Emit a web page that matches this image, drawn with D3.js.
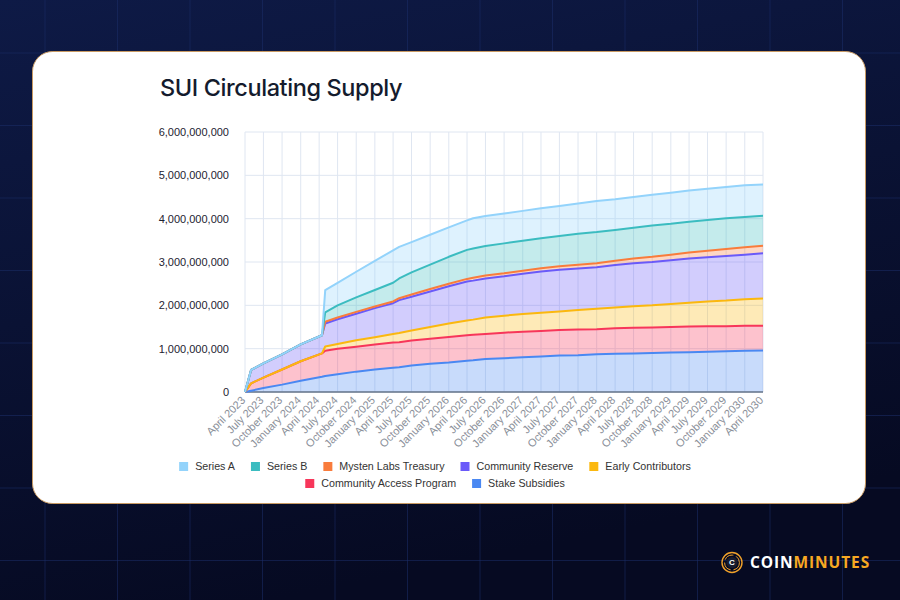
<!DOCTYPE html>
<meta charset="utf-8" />
<style>
  body { margin: 0; background: #0a1233; }
  svg { display: block; }
</style>
<body>
  <script src="https://d3js.org/d3.v7.min.js"></script>
  <script>
    // quarterly points (plus a few breakpoints), values in millions of SUI
    const dates = ["2023-04-01","2023-05-01","2023-07-01","2023-10-01","2024-01-01","2024-04-15","2024-05-01",
      "2024-07-01","2024-10-01","2025-01-01","2025-04-01","2025-05-01","2025-07-01","2025-10-01","2026-01-01",
      "2026-04-01","2026-05-01","2026-07-01","2026-10-01","2027-01-01","2027-04-01","2027-07-01","2027-10-01",
      "2028-01-01","2028-04-01","2028-07-01","2028-10-01","2029-01-01","2029-04-01","2029-07-01","2029-10-01",
      "2030-01-01","2030-04-01"];

    const stakeSubsidies    = [0,30,90,170,260,350,370,410,470,520,560,570,610,650,680,720,730,760,780,800,820,840,850,870,880,890,900,910,920,930,940,950,960];
    const communityAccess   = [0,170,240,350,450,540,580,590,575,575,580,580,580,580,590,590,590,580,590,590,590,590,590,580,590,590,590,590,590,590,580,580,570];
    const earlyContributors = [0,0,0,0,0,0,100,110,150,170,200,210,230,270,310,340,350,380,390,410,420,430,450,470,480,500,510,530,550,570,590,610,630];
    const communityReserve  = [0,310,330,350,390,420,530,570,610,670,710,760,780,820,860,900,900,900,910,930,950,960,960,960,980,990,1000,1010,1020,1020,1030,1030,1040];
    const mystenTreasury    = [0,0,0,0,0,0,40,40,45,40,40,45,50,55,60,60,65,70,70,70,75,80,85,90,100,110,120,130,140,150,160,170,175];
    const seriesB           = [0,0,0,0,0,0,220,280,335,380,430,455,510,565,620,670,675,680,690,690,695,700,715,720,710,710,720,710,710,710,710,700,695];
    const seriesA           = [0,0,0,0,0,0,510,520,590,670,750,730,700,690,680,680,700,690,690,690,690,690,700,720,710,710,710,720,720,720,720,730,720];

    // stacking order, bottom to top
    const seriesNames = ["Stake Subsidies","Community Access Program","Early Contributors","Community Reserve","Mysten Labs Treasury","Series B","Series A"];
    const seriesValues = [stakeSubsidies, communityAccess, earlyContributors, communityReserve, mystenTreasury, seriesB, seriesA];
    const seriesColors = ["#4a88f2","#f7365a","#fbb80f","#6a5af9","#f97c3c","#3bbcc0","#93d3fb"];
    const legendOrder = ["Series A","Series B","Mysten Labs Treasury","Community Reserve","Early Contributors","Community Access Program","Stake Subsidies"];

    const parseDate = d3.timeParse("%Y-%m-%d");
    const table = dates.map((d, i) => {
      const row = { date: parseDate(d) };
      seriesNames.forEach((n, j) => row[n] = seriesValues[j][i] * 1e6);
      return row;
    });

    const W = 900, H = 600;
    const svg = d3.select("body").append("svg").attr("width", W).attr("height", H);

    // background
    const defs = svg.append("defs");
    const bg = defs.append("linearGradient").attr("id", "bg").attr("x1", 0).attr("y1", 0).attr("x2", 0.3).attr("y2", 1);
    bg.append("stop").attr("offset", "0%").attr("stop-color", "#0e1a46");
    bg.append("stop").attr("offset", "100%").attr("stop-color", "#060a22");
    svg.append("rect").attr("width", W).attr("height", H).attr("fill", "url(#bg)");
    const bgGrid = svg.append("g").attr("stroke", "#1b2d68").attr("stroke-opacity", 0.55).attr("stroke-width", 1);
    d3.range(45, W, 72.5).forEach(gx => bgGrid.append("line").attr("x1", gx).attr("x2", gx).attr("y1", 0).attr("y2", H));
    d3.range(53, H, 72.5).forEach(gy => bgGrid.append("line").attr("x1", 0).attr("x2", W).attr("y1", gy).attr("y2", gy));

    // card
    svg.append("rect").attr("x", 32.5).attr("y", 51.5).attr("width", 833).attr("height", 452)
      .attr("rx", 20).attr("fill", "#fff").attr("stroke", "#c99a62").attr("stroke-width", 1);

    svg.append("text").attr("x", 160).attr("y", 96)
      .style("font-family", "Inter, 'Noto Sans', sans-serif").style("font-size", "23.5px").style("font-weight", 500)
      .attr("fill", "#141b2d").attr("letter-spacing", "-0.4").text("SUI Circulating Supply");

    const x = d3.scaleTime().domain([parseDate("2023-04-01"), parseDate("2030-04-01")]).range([245, 763]);
    const y = d3.scaleLinear().domain([0, 6e9]).range([392, 132]);

    // grid
    const grid = svg.append("g").attr("stroke", "#dfe6f1").attr("stroke-width", 1);
    const xTicks = x.ticks(d3.timeMonth.every(3));
    xTicks.forEach(t => grid.append("line").attr("x1", x(t)).attr("x2", x(t)).attr("y1", y(6e9)).attr("y2", y(0)));
    y.ticks(6).forEach(t => grid.append("line").attr("x1", 245).attr("x2", 763).attr("y1", y(t)).attr("y2", y(t)));

    // y labels
    svg.append("g").selectAll("text").data(y.ticks(6)).join("text")
      .attr("x", 229).attr("y", d => y(d)).attr("dy", "0.35em").attr("text-anchor", "end")
      .style("font-family", "'Liberation Sans', Arial, sans-serif").style("font-size", "11px")
      .attr("fill", "#1d2230").text(d => d3.format(",")(d));

    // x labels
    svg.append("g").selectAll("text").data(xTicks).join("text")
      .attr("transform", d => `translate(${x(d) + 1},${401}) rotate(-45)`).attr("text-anchor", "end")
      .style("font-family", "'Liberation Sans', Arial, sans-serif").style("font-size", "11px")
      .attr("fill", "#8a8f99").text(d3.timeFormat("%B %Y"));

    // stacked areas
    const stack = d3.stack().keys(seriesNames)(table);
    const area = d3.area().x(d => x(d.data.date)).y0(d => y(d[0])).y1(d => y(d[1]));
    const line = d3.line().x(d => x(d.data.date)).y(d => y(d[1]));

    svg.append("g").selectAll("path").data(stack).join("path")
      .attr("d", area).attr("fill", (d, i) => seriesColors[i]).attr("fill-opacity", 0.3);

    svg.append("line").attr("x1", 245).attr("x2", 763).attr("y1", y(0)).attr("y2", y(0))
      .attr("stroke", "#66758a").attr("stroke-width", 1.5);

    svg.append("g").selectAll("path").data(stack).join("path")
      .attr("d", line).attr("fill", "none").attr("stroke", (d, i) => seriesColors[i])
      .attr("stroke-width", 2).attr("stroke-linejoin", "round");

    // legend, two centred rows
    const rows = [legendOrder.slice(0, 5), legendOrder.slice(5)];
    const legend = svg.append("g");
    rows.forEach((row, r) => {
      const g = legend.append("g");
      let cx = 0;
      row.forEach(name => {
        const col = seriesColors[seriesNames.indexOf(name)];
        g.append("rect").attr("x", cx).attr("y", -4.5).attr("width", 9).attr("height", 9).attr("fill", col);
        const t = g.append("text").attr("x", cx + 16).attr("y", 0).attr("dy", "0.35em")
          .style("font-family", "'Liberation Sans', Arial, sans-serif").style("font-size", "10.7px")
          .attr("fill", "#333").text(name);
        cx += 16 + t.node().getComputedTextLength() + 16;
      });
      const w = cx - 16;
      g.attr("transform", `translate(${435 - w / 2},${466.5 + r * 17})`);
    });

    // logo
    const logo = svg.append("g").attr("transform", "translate(732,562.5)");
    logo.append("circle").attr("r", 10).attr("fill", "none").attr("stroke", "#f0a12a").attr("stroke-width", 1.4);
    logo.append("circle").attr("r", 7.4).attr("fill", "none").attr("stroke", "#f0a12a").attr("stroke-width", 1)
      .attr("stroke-dasharray", "10 3");
    logo.append("circle").attr("r", 5.5).attr("fill", "#1a1d2e");
    logo.append("text").attr("text-anchor", "middle").attr("dy", "0.36em")
      .style("font-family", "'Liberation Sans', Arial, sans-serif").style("font-size", "8px").style("font-weight", 700)
      .attr("fill", "#fff").text("C");
    const brand = svg.append("text").attr("x", 750).attr("y", 568)
      .style("font-family", "'Open Sans', 'Liberation Sans', sans-serif").style("font-size", "15.5px").style("font-weight", 700)
      .attr("letter-spacing", "0.9");
    brand.append("tspan").attr("fill", "#ffffff").text("COIN");
    brand.append("tspan").attr("fill", "#f7a823").text("MINUTES");
  </script>
</body>
